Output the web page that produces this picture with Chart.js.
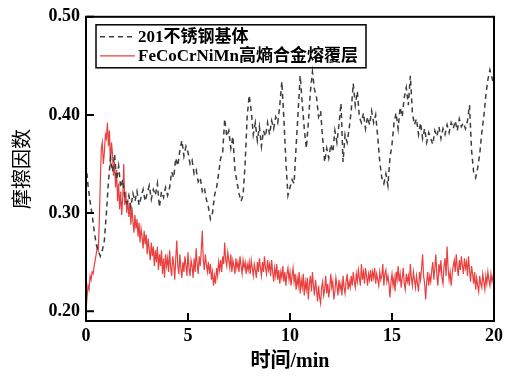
<!DOCTYPE html>
<html lang="zh">
<head>
<meta charset="UTF-8">
<title>摩擦因数</title>
<script src="https://cdn.jsdelivr.net/npm/chart.js"></script>
<style>
    body { margin: 0; background: #fff; }
</style>
</head>
<body>
<canvas id="frictionChart" width="509" height="376"></canvas>
<script>
// sampling intervals, min
const STEEL_STEP = 0.1;
const COATING_STEP = 0.05;

// 201 stainless steel substrate, one row per minute
const steel = [
    0.350, 0.328, 0.312, 0.298, 0.282, 0.268, 0.262, 0.256, 0.262, 0.272,
    0.300, 0.332, 0.356, 0.342, 0.360, 0.334, 0.348, 0.326, 0.334, 0.316,
    0.310, 0.318, 0.306, 0.320, 0.312, 0.322, 0.308, 0.316, 0.324, 0.312,
    0.320, 0.328, 0.314, 0.324, 0.318, 0.330, 0.306, 0.322, 0.316, 0.326,
    0.318, 0.326, 0.342, 0.336, 0.356, 0.348, 0.364, 0.374, 0.358, 0.368,
    0.362, 0.350, 0.354, 0.340, 0.344, 0.332, 0.336, 0.322, 0.326, 0.314,
    0.306, 0.294, 0.300, 0.318, 0.326, 0.340, 0.356, 0.362, 0.396, 0.378,
    0.384, 0.366, 0.378, 0.344, 0.332, 0.320, 0.312, 0.318, 0.350, 0.398,
    0.420, 0.404, 0.380, 0.392, 0.374, 0.388, 0.368, 0.384, 0.378, 0.392,
    0.380, 0.394, 0.386, 0.398, 0.392, 0.410, 0.434, 0.396, 0.352, 0.318,
    0.326, 0.334, 0.330, 0.368, 0.404, 0.440, 0.412, 0.386, 0.366, 0.392,
    0.424, 0.444, 0.426, 0.418, 0.398, 0.404, 0.376, 0.352, 0.366, 0.356,
    0.370, 0.362, 0.384, 0.372, 0.390, 0.412, 0.352, 0.380, 0.372, 0.386,
    0.404, 0.432, 0.410, 0.424, 0.398, 0.392, 0.402, 0.386, 0.398, 0.390,
    0.404, 0.392, 0.400, 0.378, 0.352, 0.336, 0.330, 0.340, 0.328, 0.356,
    0.370, 0.392, 0.402, 0.386, 0.408, 0.398, 0.418, 0.428, 0.410, 0.440,
    0.402, 0.390, 0.396, 0.380, 0.392, 0.376, 0.386, 0.372, 0.382, 0.376,
    0.370, 0.384, 0.378, 0.388, 0.376, 0.386, 0.380, 0.390, 0.382, 0.392,
    0.386, 0.394, 0.384, 0.396, 0.388, 0.392, 0.386, 0.394, 0.410, 0.364,
    0.342, 0.336, 0.346, 0.360, 0.382, 0.398, 0.420, 0.436, 0.446, 0.438,
    0.430
];

// FeCoCrNiMn high-entropy alloy cladding layer, one row per minute
const coating = [
    0.200, 0.214, 0.226, 0.222, 0.236, 0.232, 0.240, 0.238, 0.246, 0.252, 0.258, 0.266, 0.262, 0.290, 0.330, 0.366, 0.372, 0.350, 0.362, 0.380,
    0.376, 0.392, 0.368, 0.384, 0.348, 0.372, 0.360, 0.338, 0.352, 0.326, 0.344, 0.312, 0.330, 0.304, 0.322, 0.298, 0.316, 0.350, 0.308, 0.322,
    0.300, 0.314, 0.296, 0.310, 0.288, 0.306, 0.292, 0.280, 0.298, 0.284, 0.294, 0.276, 0.290, 0.270, 0.284, 0.276, 0.264, 0.282, 0.268, 0.278,
    0.258, 0.274, 0.262, 0.252, 0.270, 0.256, 0.266, 0.246, 0.262, 0.250, 0.266, 0.242, 0.258, 0.246, 0.262, 0.238, 0.254, 0.234, 0.258, 0.246,
    0.254, 0.240, 0.262, 0.244, 0.236, 0.256, 0.248, 0.232, 0.254, 0.272, 0.246, 0.238, 0.258, 0.244, 0.234, 0.250, 0.240, 0.256, 0.246, 0.236,
    0.260, 0.244, 0.236, 0.252, 0.246, 0.234, 0.254, 0.240, 0.264, 0.248, 0.238, 0.256, 0.246, 0.262, 0.282, 0.252, 0.242, 0.258, 0.248, 0.240,
    0.250, 0.238, 0.248, 0.232, 0.240, 0.226, 0.236, 0.228, 0.244, 0.236, 0.250, 0.242, 0.252, 0.240, 0.256, 0.248, 0.270, 0.252, 0.246, 0.260,
    0.252, 0.244, 0.258, 0.240, 0.252, 0.246, 0.238, 0.254, 0.244, 0.250, 0.240, 0.256, 0.246, 0.238, 0.252, 0.244, 0.250, 0.238, 0.248, 0.242,
    0.250, 0.238, 0.252, 0.244, 0.236, 0.248, 0.242, 0.234, 0.250, 0.240, 0.254, 0.244, 0.236, 0.250, 0.240, 0.256, 0.244, 0.238, 0.252, 0.242,
    0.248, 0.236, 0.252, 0.240, 0.230, 0.244, 0.236, 0.248, 0.232, 0.242, 0.228, 0.240, 0.234, 0.246, 0.230, 0.240, 0.226, 0.238, 0.244, 0.232,
    0.240, 0.226, 0.236, 0.244, 0.230, 0.238, 0.222, 0.234, 0.226, 0.240, 0.218, 0.232, 0.224, 0.238, 0.216, 0.230, 0.222, 0.234, 0.212, 0.228,
    0.236, 0.220, 0.240, 0.226, 0.216, 0.232, 0.222, 0.210, 0.226, 0.214, 0.208, 0.224, 0.230, 0.216, 0.222, 0.236, 0.218, 0.228, 0.214, 0.224,
    0.238, 0.224, 0.230, 0.212, 0.220, 0.234, 0.226, 0.216, 0.232, 0.222, 0.228, 0.216, 0.236, 0.224, 0.218, 0.230, 0.238, 0.222, 0.230, 0.224,
    0.236, 0.226, 0.240, 0.230, 0.224, 0.238, 0.230, 0.242, 0.234, 0.226, 0.248, 0.232, 0.240, 0.228, 0.244, 0.236, 0.226, 0.238, 0.232, 0.242,
    0.230, 0.240, 0.234, 0.244, 0.228, 0.238, 0.232, 0.226, 0.240, 0.232, 0.236, 0.248, 0.226, 0.238, 0.242, 0.230, 0.236, 0.228, 0.214, 0.230,
    0.238, 0.226, 0.234, 0.220, 0.240, 0.232, 0.246, 0.230, 0.238, 0.224, 0.234, 0.244, 0.228, 0.222, 0.238, 0.230, 0.236, 0.226, 0.248, 0.234,
    0.226, 0.240, 0.232, 0.224, 0.236, 0.228, 0.220, 0.240, 0.232, 0.244, 0.258, 0.236, 0.228, 0.212, 0.230, 0.240, 0.226, 0.236, 0.230, 0.242,
    0.250, 0.232, 0.244, 0.258, 0.236, 0.226, 0.248, 0.240, 0.252, 0.234, 0.228, 0.246, 0.254, 0.236, 0.266, 0.244, 0.232, 0.240, 0.226, 0.238,
    0.246, 0.252, 0.240, 0.258, 0.244, 0.236, 0.252, 0.242, 0.256, 0.246, 0.238, 0.254, 0.244, 0.250, 0.236, 0.256, 0.242, 0.230, 0.246, 0.238,
    0.228, 0.240, 0.222, 0.234, 0.226, 0.220, 0.236, 0.228, 0.224, 0.238, 0.230, 0.222, 0.236, 0.228, 0.240, 0.232, 0.226, 0.238, 0.230, 0.236,
    0.234
];

const seriesNames = ['201不锈钢基体', 'FeCoCrNiMn高熵合金熔覆层'];
const xTicks = [0, 5, 10, 15, 20];
const yTicks = [0.20, 0.30, 0.40, 0.50];

const SERIF = "'Liberation Serif', 'Times New Roman', 'Noto Sans CJK SC', serif";

const toPoints = (arr, step) => arr.map((v, i) => ({ x: Math.round(i * step * 100) / 100, y: v }));

// box frame, inward ticks and the boxed legend
const framePlugin = {
    id: 'frame',
    afterDraw(chart) {
        const { ctx, chartArea: a, scales: { x, y } } = chart;
        ctx.save();
        ctx.strokeStyle = '#000';
        ctx.lineWidth = 2;
        ctx.strokeRect(a.left, a.top, a.right - a.left, a.bottom - a.top);
        ctx.beginPath();
        xTicks.forEach(t => {
            const px = x.getPixelForValue(t);
            ctx.moveTo(px, a.bottom);
            ctx.lineTo(px, a.bottom - 8);
        });
        yTicks.forEach(t => {
            const py = y.getPixelForValue(t);
            ctx.moveTo(a.left, py);
            ctx.lineTo(a.left + 8, py);
        });
        ctx.stroke();

        // legend
        const lx = a.left + 10, ly = a.top + 8;
        ctx.lineWidth = 1.5;
        ctx.strokeRect(lx, ly, 270, 43);
        ctx.font = "bold 17px " + SERIF;
        ctx.textBaseline = 'middle';
        ctx.fillStyle = '#000';
        chart.data.datasets.forEach((ds, i) => {
            const cy = ly + 12 + i * 19;
            ctx.beginPath();
            ctx.strokeStyle = ds.borderColor;
            ctx.lineWidth = ds.borderWidth;
            ctx.setLineDash(ds.borderDash || []);
            ctx.moveTo(lx + 4, cy);
            ctx.lineTo(lx + 39, cy);
            ctx.stroke();
            ctx.setLineDash([]);
            ctx.fillText(ds.label, lx + 42, cy + 1);
        });
        ctx.restore();
    }
};

const ctx = document.getElementById('frictionChart').getContext('2d');
const frictionChart = new Chart(ctx, {
    type: 'line',
    data: {
        datasets: [
            {
                label: seriesNames[0],
                data: toPoints(steel, STEEL_STEP),
                borderColor: '#3c3c3c',
                borderWidth: 1.5,
                borderDash: [5, 4],
                pointRadius: 0,
                fill: false
            },
            {
                label: seriesNames[1],
                data: toPoints(coating, COATING_STEP),
                borderColor: '#e8403f',
                borderWidth: 1.2,
                pointRadius: 0,
                fill: false
            }
        ]
    },
    options: {
        responsive: false,
        animation: false,
        devicePixelRatio: 1,
        layout: { padding: { left: 0, right: 15, top: 15, bottom: 0 } },
        plugins: {
            legend: { display: false },
            tooltip: { enabled: false }
        },
        scales: {
            x: {
                type: 'linear',
                min: 0,
                max: 20,
                afterBuildTicks: s => { s.ticks = xTicks.map(v => ({ value: v })); },
                afterFit: s => { s.height = 55; },
                grid: { display: false, drawTicks: false },
                border: { display: false },
                ticks: {
                    color: '#000',
                    padding: 5,
                    maxRotation: 0,
                    font: { family: SERIF, size: 18, weight: 'bold' }
                },
                title: {
                    display: true,
                    text: '时间/min',
                    color: '#000',
                    padding: { top: 0, bottom: 2 },
                    font: { family: SERIF, size: 20, weight: 'bold' }
                }
            },
            y: {
                min: 0.19,
                max: 0.50,
                afterBuildTicks: s => { s.ticks = yTicks.map(v => ({ value: v })); },
                afterFit: s => { s.width = 86; },
                grid: { display: false, drawTicks: false },
                border: { display: false },
                ticks: {
                    color: '#000',
                    padding: 6,
                    callback: v => v.toFixed(2),
                    font: { family: SERIF, size: 18, weight: 'bold' }
                },
                title: {
                    display: true,
                    text: '摩擦因数',
                    color: '#000',
                    padding: { top: 12, bottom: 0 },
                    font: { family: SERIF, size: 20, weight: 'normal' }
                }
            }
        }
    },
    plugins: [framePlugin]
});
</script>
</body>
</html>
